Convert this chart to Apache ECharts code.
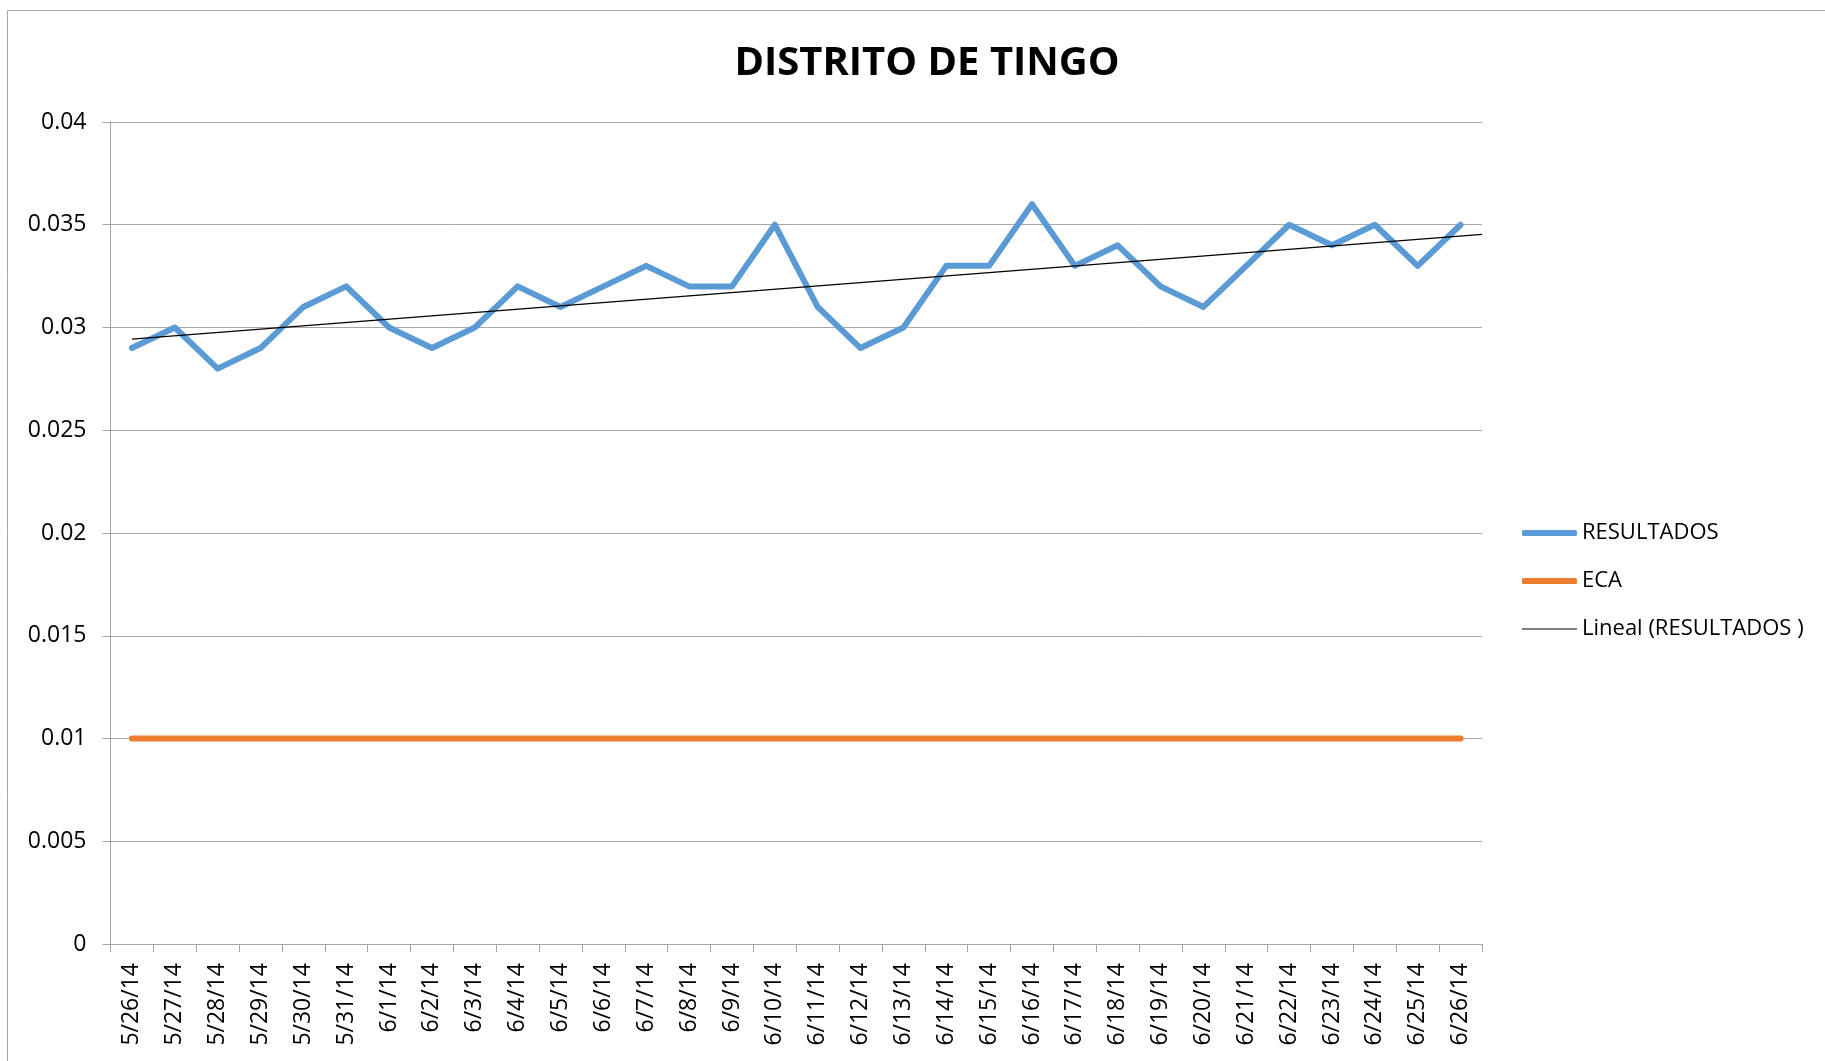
<!DOCTYPE html>
<html><head><meta charset="utf-8">
<script src="https://cdn.jsdelivr.net/npm/echarts@6/dist/echarts.min.js"></script>
<style>html,body{margin:0;padding:0;background:#fff}#c{width:1825px;height:1061px}</style>
</head><body><div id="c"></div>
<script>
const categories = ['5/26/14','5/27/14','5/28/14','5/29/14','5/30/14','5/31/14','6/1/14','6/2/14','6/3/14','6/4/14','6/5/14','6/6/14','6/7/14','6/8/14','6/9/14','6/10/14','6/11/14','6/12/14','6/13/14','6/14/14','6/15/14','6/16/14','6/17/14','6/18/14','6/19/14','6/20/14','6/21/14','6/22/14','6/23/14','6/24/14','6/25/14','6/26/14'];
const resultados = [0.029,0.030,0.028,0.029,0.031,0.032,0.030,0.029,0.030,0.032,0.031,0.032,0.033,0.032,0.032,0.035,0.031,0.029,0.030,0.033,0.033,0.036,0.033,0.034,0.032,0.031,0.033,0.035,0.034,0.035,0.033,0.035];
const eca = [0.01,0.01,0.01,0.01,0.01,0.01,0.01,0.01,0.01,0.01,0.01,0.01,0.01,0.01,0.01,0.01,0.01,0.01,0.01,0.01,0.01,0.01,0.01,0.01,0.01,0.01,0.01,0.01,0.01,0.01,0.01,0.01];
// trend line (Lineal) endpoints: category position, value
const trendX = [0, 31.5];
const trendY = [0.02943, 0.03453];

const FONT = '"Open Sans", sans-serif';
const legendText = {fontFamily: FONT, fontSize: 22, color: '#000', lineHeight: 24};
const chart = echarts.init(document.getElementById('c'));
chart.setOption({
  animation: false,
  backgroundColor: '#fff',
  title: {
    text: 'DISTRITO DE TINGO', left: 922, top: 39, textAlign: 'center',
    textStyle: {fontFamily: FONT, fontWeight: 'bold', fontSize: 40, color: '#000'}
  },
  graphic: [
    {type: 'line', shape: {x1: 7.5, y1: 10.5, x2: 1825, y2: 10.5}, style: {stroke: '#a6a6a6', lineWidth: 1}},
    {type: 'line', shape: {x1: 7.5, y1: 10.5, x2: 7.5, y2: 1061}, style: {stroke: '#a6a6a6', lineWidth: 1}}
  ],
  legend: [{
    orient: 'vertical', left: 1517, top: 516,
    icon: 'roundRect', itemWidth: 55, itemHeight: 6, itemGap: 24,
    textStyle: legendText,
    data: ['RESULTADOS', 'ECA']
  }, {
    orient: 'vertical', left: 1517, top: 612,
    icon: 'rect', itemWidth: 55, itemHeight: 1.2,
    textStyle: legendText,
    data: ['Lineal (RESULTADOS )']
  }],
  grid: {left: 110.5, right: 343, top: 122, bottom: 117, containLabel: false},
  xAxis: [{
    type: 'category', data: categories, boundaryGap: true,
    axisLine: {lineStyle: {color: '#a6a6a6', width: 1}},
    axisTick: {show: true, alignWithLabel: false, length: 8, lineStyle: {color: '#a6a6a6'}},
    axisLabel: {rotate: 90, interval: 0, margin: 19, fontFamily: FONT, fontSize: 23, color: '#000'}
  }, {
    type: 'value', min: -0.5, max: 31.5, show: false
  }],
  yAxis: {
    type: 'value', min: 0, max: 0.04, interval: 0.005,
    axisLine: {show: true, onZero: false, lineStyle: {color: '#a6a6a6', width: 1}},
    axisTick: {show: true, length: 8, lineStyle: {color: '#a6a6a6'}},
    splitLine: {lineStyle: {color: '#a6a6a6', width: 1}},
    axisLabel: {margin: 24, fontFamily: FONT, fontSize: 23, color: '#000',
      formatter: v => String(+v.toFixed(3))}
  },
  series: [
    {name: 'RESULTADOS', type: 'line', data: resultados, symbol: 'none', color: '#5b9bd5',
      lineStyle: {width: 6, color: '#5b9bd5', cap: 'round', join: 'round'}, z: 3},
    {name: 'ECA', type: 'line', data: eca, symbol: 'none', color: '#ed7d31',
      lineStyle: {width: 6, color: '#ed7d31', cap: 'round'}, z: 2},
    {name: 'Lineal (RESULTADOS )', type: 'line', xAxisIndex: 1, symbol: 'none', color: '#000',
      data: trendX.map((x, i) => [x, trendY[i]]),
      lineStyle: {width: 1.3, color: '#000'}, z: 4}
  ]
});
</script></body></html>
